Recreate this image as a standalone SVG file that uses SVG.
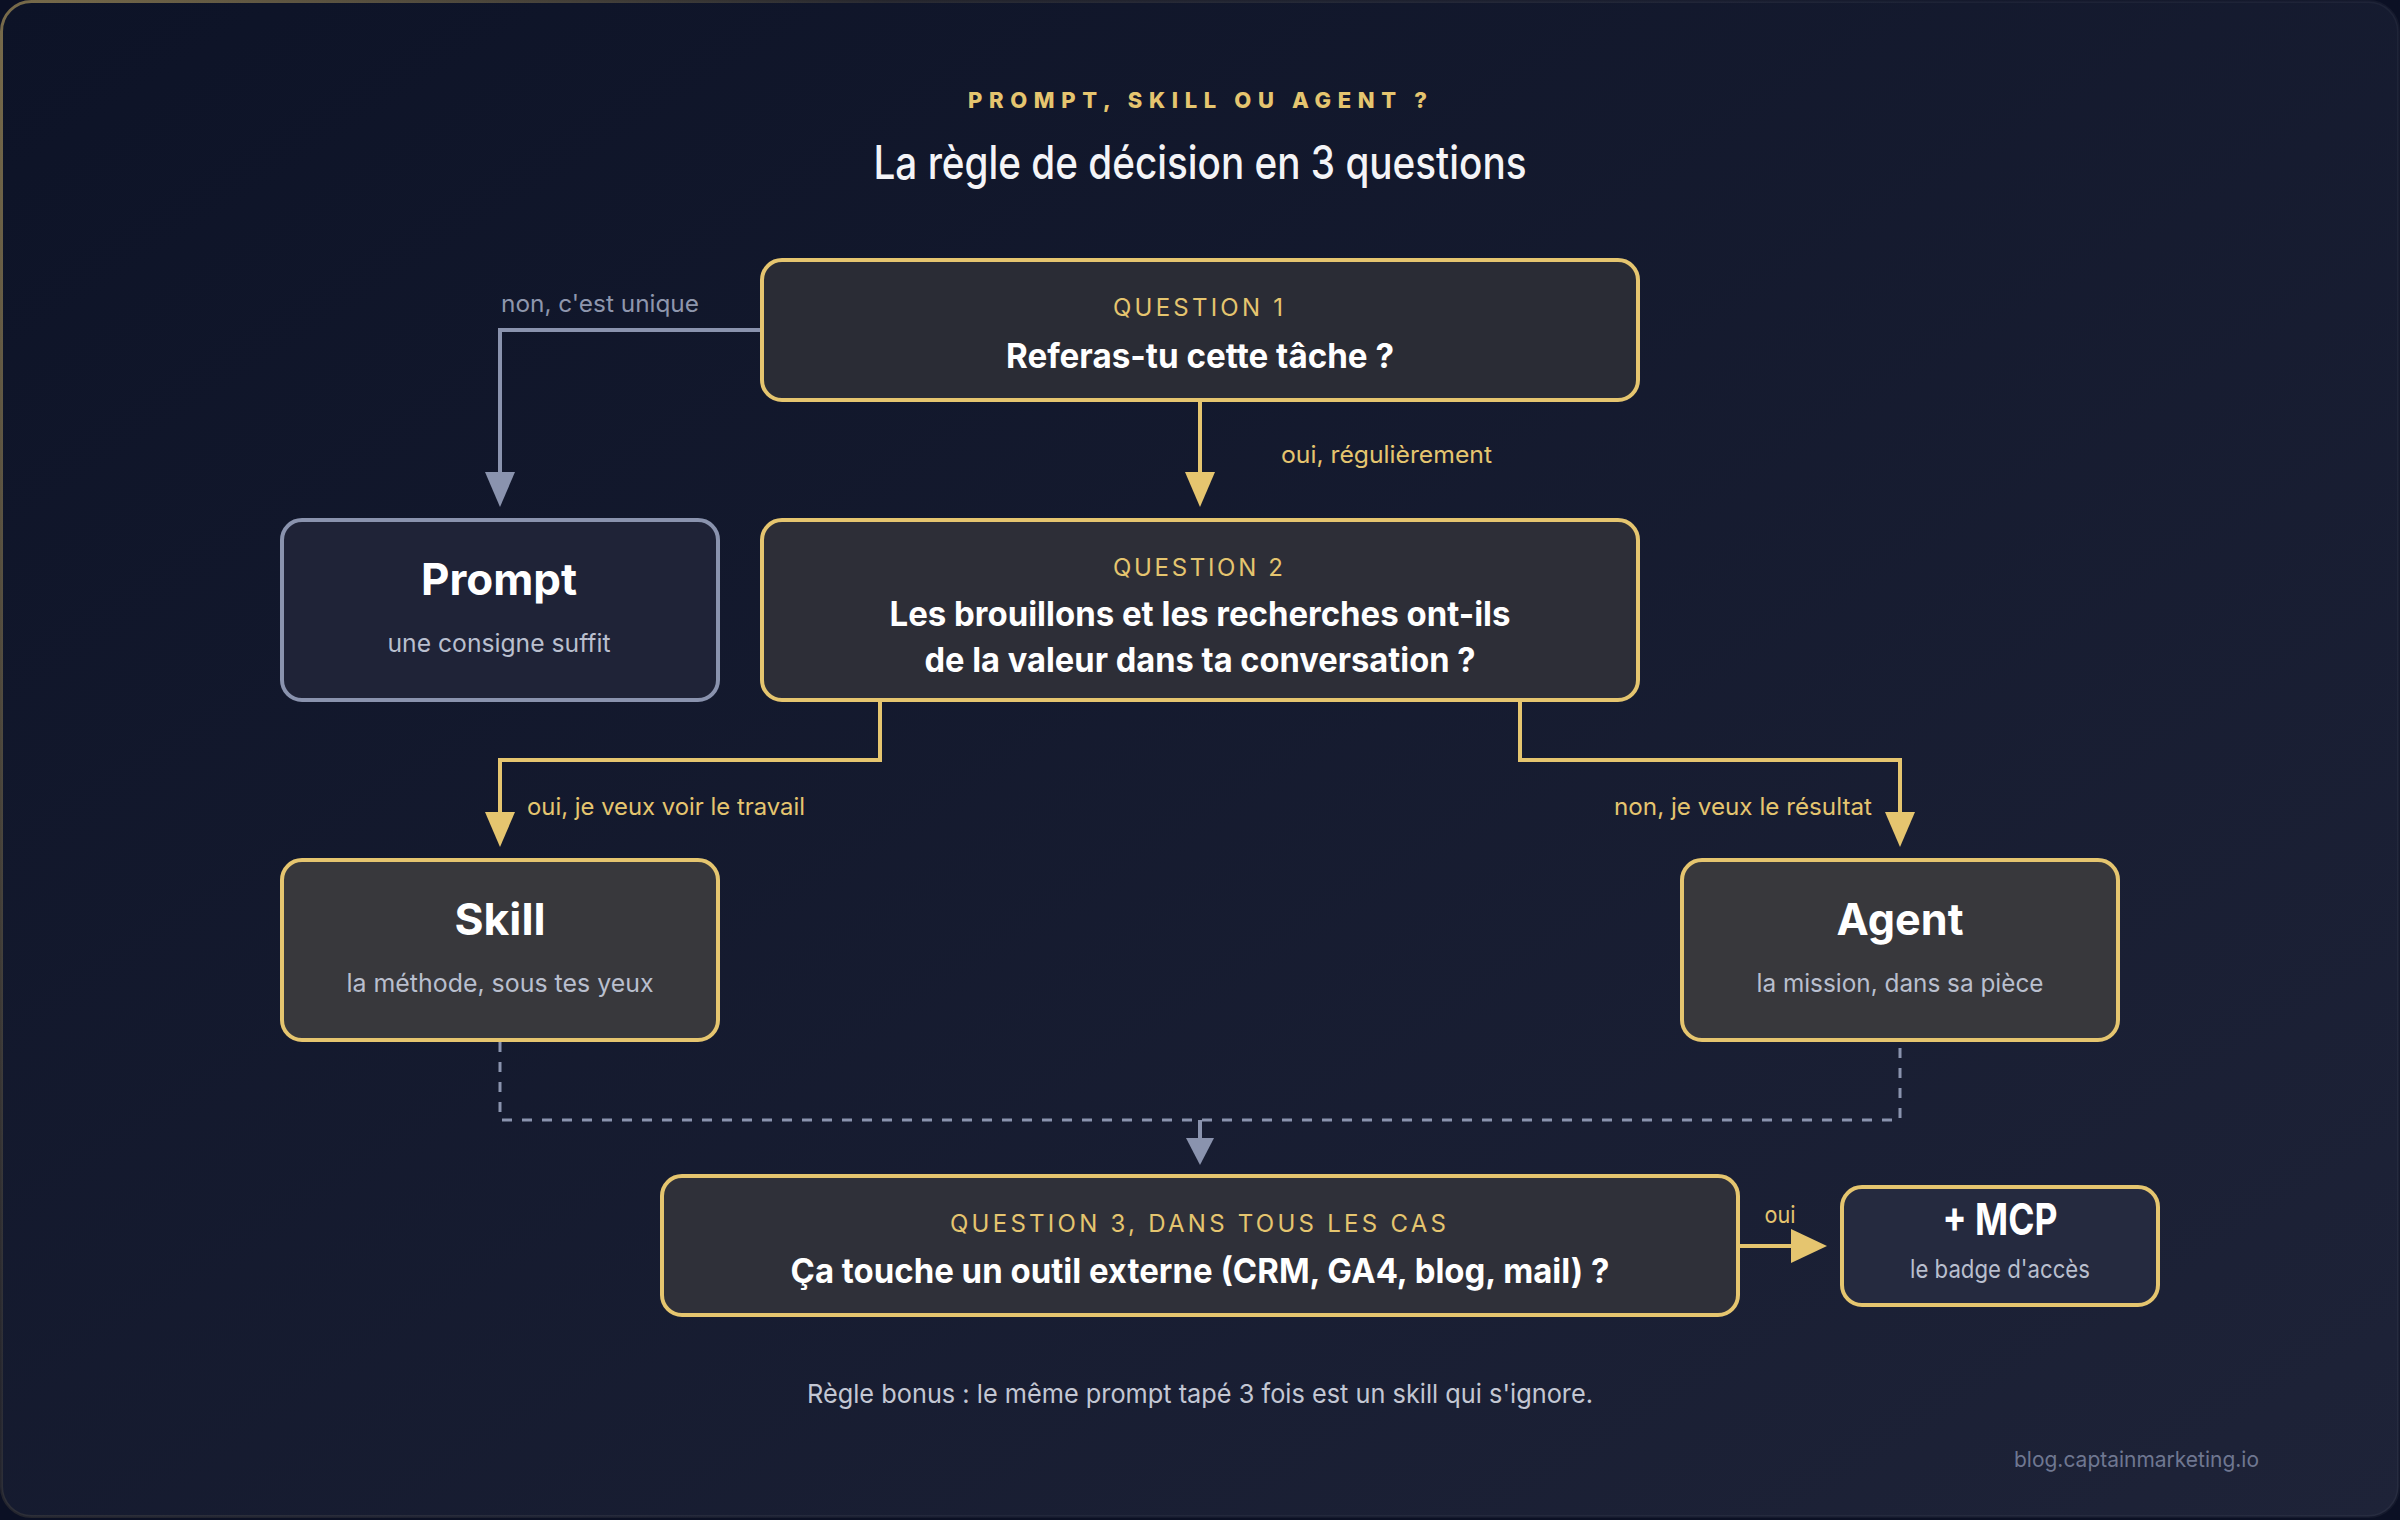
<svg xmlns="http://www.w3.org/2000/svg" width="2400" height="1520" viewBox="0 0 2400 1520">
  <defs>
    <linearGradient id="bg" x1="0" y1="0" x2="1" y2="1">
      <stop offset="0" stop-color="#0d1327"/>
      <stop offset="1" stop-color="#1e2338"/>
    </linearGradient>
    <linearGradient id="frameStroke" gradientUnits="userSpaceOnUse" x1="0" y1="0" x2="1400" y2="900">
      <stop offset="0" stop-color="#e5c56f" stop-opacity="0.5"/>
      <stop offset="0.45" stop-color="#e5c56f" stop-opacity="0.12"/>
      <stop offset="1" stop-color="#ffffff" stop-opacity="0.04"/>
    </linearGradient>
    <marker id="arrowGold" markerUnits="userSpaceOnUse" viewBox="0 0 35 30" markerWidth="35" markerHeight="30" refX="0" refY="15" orient="auto">
      <path d="M0,0 L35,15 L0,30 Z" fill="#e5c56f"/>
    </marker>
    <marker id="arrowSlate" markerUnits="userSpaceOnUse" viewBox="0 0 35 30" markerWidth="35" markerHeight="30" refX="0" refY="15" orient="auto">
      <path d="M0,0 L35,15 L0,30 Z" fill="#8a93ae"/>
    </marker>
    <marker id="arrowSlateSm" markerUnits="userSpaceOnUse" viewBox="0 0 27 28" markerWidth="27" markerHeight="28" refX="0" refY="14" orient="auto">
      <path d="M0,0 L27,14 L0,28 Z" fill="#8a93ae"/>
    </marker>
    <marker id="arrowGoldWide" markerUnits="userSpaceOnUse" viewBox="0 0 36 34" markerWidth="36" markerHeight="34" refX="0" refY="17" orient="auto">
      <path d="M0,0 L36,17 L0,34 Z" fill="#e5c56f"/>
    </marker>
  </defs>
  <style>
    text { font-family: Inter, "Noto Sans", "Liberation Sans", sans-serif; }
    .kicker { font-size: 22px; font-weight: 800; fill: #e5c56f; letter-spacing: 5px; }
    .title { font-size: 46px; font-weight: 500; fill: #f4f4f7; }
    .qlabel { font-size: 24px; font-weight: 400; fill: #e5c56f; letter-spacing: 4px; }
    .qtext { font-size: 34px; font-weight: 700; fill: #ffffff; }
    .name { font-size: 44px; font-weight: 700; fill: #ffffff; }
    .sub { font-size: 25px; font-weight: 400; fill: #b9bfce; }
    .lblGold { font-size: 24px; font-weight: 400; fill: #e5c56f; }
    .lblSlate { font-size: 24px; font-weight: 400; fill: #8e96ad; }
    .box { stroke-width: 4; }
    .gold { stroke: #e5c56f; }
    .slate { stroke: #8a93ae; }
    .conn { fill: none; stroke-width: 4; }
    .dashed { fill: none; stroke: #8a93ae; stroke-width: 3; stroke-dasharray: 10 10; }
  </style>

  <rect x="0" y="0" width="2400" height="1520" fill="#0b1024"/>
  <rect x="1.5" y="1.5" width="2397" height="1515" rx="30" fill="url(#bg)" stroke="url(#frameStroke)" stroke-width="3"/>

  <g id="header">
    <text class="kicker" x="1200" y="108" text-anchor="middle" textLength="464">PROMPT, SKILL OU AGENT ?</text>
    <text class="title" x="1200" y="179" text-anchor="middle" textLength="653" lengthAdjust="spacingAndGlyphs">La règle de décision en 3 questions</text>
  </g>

  <g id="connectors">
    <path class="conn slate" d="M762,330 H500 V472" marker-end="url(#arrowSlate)"/>
    <path class="conn gold" d="M1200,400 V472" marker-end="url(#arrowGold)"/>
    <path class="conn gold" d="M880,700 V760 H500 V812" marker-end="url(#arrowGold)"/>
    <path class="conn gold" d="M1520,700 V760 H1900 V812" marker-end="url(#arrowGold)"/>
    <path class="dashed" d="M500,1042 V1120 H1900 V1042"/>
    <path class="conn slate" d="M1200,1120 V1138" marker-end="url(#arrowSlateSm)"/>
    <path class="conn gold" d="M1740,1246 H1791" marker-end="url(#arrowGoldWide)"/>
    <text class="lblSlate" x="600" y="312" text-anchor="middle" textLength="198" lengthAdjust="spacingAndGlyphs">non, c'est unique</text>
    <text class="lblGold" x="1281" y="463" textLength="211" lengthAdjust="spacingAndGlyphs">oui, régulièrement</text>
    <text class="lblGold" x="527" y="815" textLength="278" lengthAdjust="spacingAndGlyphs">oui, je veux voir le travail</text>
    <text class="lblGold" x="1872" y="815" text-anchor="end" textLength="258" lengthAdjust="spacingAndGlyphs">non, je veux le résultat</text>
    <text class="lblGold" x="1780" y="1223" text-anchor="middle" font-size="22" textLength="31" lengthAdjust="spacingAndGlyphs">oui</text>
  </g>

  <g id="q1">
    <rect class="box gold" x="762" y="260" width="876" height="140" rx="20" fill="#2a2c35"/>
    <text class="qlabel" x="1200" y="316" text-anchor="middle" textLength="174">QUESTION 1</text>
    <text class="qtext" x="1200" y="368" text-anchor="middle" textLength="388" lengthAdjust="spacingAndGlyphs">Referas-tu cette tâche ?</text>
  </g>

  <g id="prompt">
    <rect class="box slate" x="282" y="520" width="436" height="180" rx="20" fill="#1f2337"/>
    <text class="name" x="499" y="595" text-anchor="middle" font-size="42" textLength="156" lengthAdjust="spacingAndGlyphs">Prompt</text>
    <text class="sub" x="499" y="652" text-anchor="middle" textLength="223" lengthAdjust="spacingAndGlyphs">une consigne suffit</text>
  </g>

  <g id="q2">
    <rect class="box gold" x="762" y="520" width="876" height="180" rx="20" fill="#2d2e37"/>
    <text class="qlabel" x="1200" y="576" text-anchor="middle" textLength="174">QUESTION 2</text>
    <text class="qtext" x="1200" y="626" text-anchor="middle" textLength="621" lengthAdjust="spacingAndGlyphs">Les brouillons et les recherches ont-ils</text>
    <text class="qtext" x="1200" y="672" text-anchor="middle" textLength="551" lengthAdjust="spacingAndGlyphs">de la valeur dans ta conversation ?</text>
  </g>

  <g id="skill">
    <rect class="box gold" x="282" y="860" width="436" height="180" rx="20" fill="#38383c"/>
    <text class="name" x="500" y="935" text-anchor="middle" textLength="91" lengthAdjust="spacingAndGlyphs">Skill</text>
    <text class="sub" x="500" y="992" text-anchor="middle" textLength="307" lengthAdjust="spacingAndGlyphs">la méthode, sous tes yeux</text>
  </g>

  <g id="agent">
    <rect class="box gold" x="1682" y="860" width="436" height="180" rx="20" fill="#38383c"/>
    <text class="name" x="1900" y="935" text-anchor="middle" textLength="127" lengthAdjust="spacingAndGlyphs">Agent</text>
    <text class="sub" x="1900" y="992" text-anchor="middle" textLength="287" lengthAdjust="spacingAndGlyphs">la mission, dans sa pièce</text>
  </g>

  <g id="q3">
    <rect class="box gold" x="662" y="1176" width="1076" height="139" rx="20" fill="#2f3039"/>
    <text class="qlabel" x="1200" y="1232" text-anchor="middle" textLength="500">QUESTION 3, DANS TOUS LES CAS</text>
    <text class="qtext" x="1200" y="1283" text-anchor="middle" textLength="819" lengthAdjust="spacingAndGlyphs">Ça touche un outil externe (CRM, GA4, blog, mail) ?</text>
  </g>

  <g id="mcp">
    <rect class="box gold" x="1842" y="1187" width="316" height="118" rx="20" fill="#252a3f"/>
    <text class="name" x="2000" y="1235" text-anchor="middle" font-size="32" textLength="115" lengthAdjust="spacingAndGlyphs">+ MCP</text>
    <text class="sub" x="2000" y="1278" text-anchor="middle" font-size="22" textLength="180" lengthAdjust="spacingAndGlyphs">le badge d'accès</text>
  </g>

  <g id="footer">
    <text x="1200" y="1403" text-anchor="middle" font-size="26" fill="#c3c7d3" textLength="786" lengthAdjust="spacingAndGlyphs">Règle bonus : le même prompt tapé 3 fois est un skill qui s'ignore.</text>
    <text x="2259" y="1467" text-anchor="end" font-size="22" fill="#6f7791" textLength="245" lengthAdjust="spacingAndGlyphs">blog.captainmarketing.io</text>
  </g>
</svg>
